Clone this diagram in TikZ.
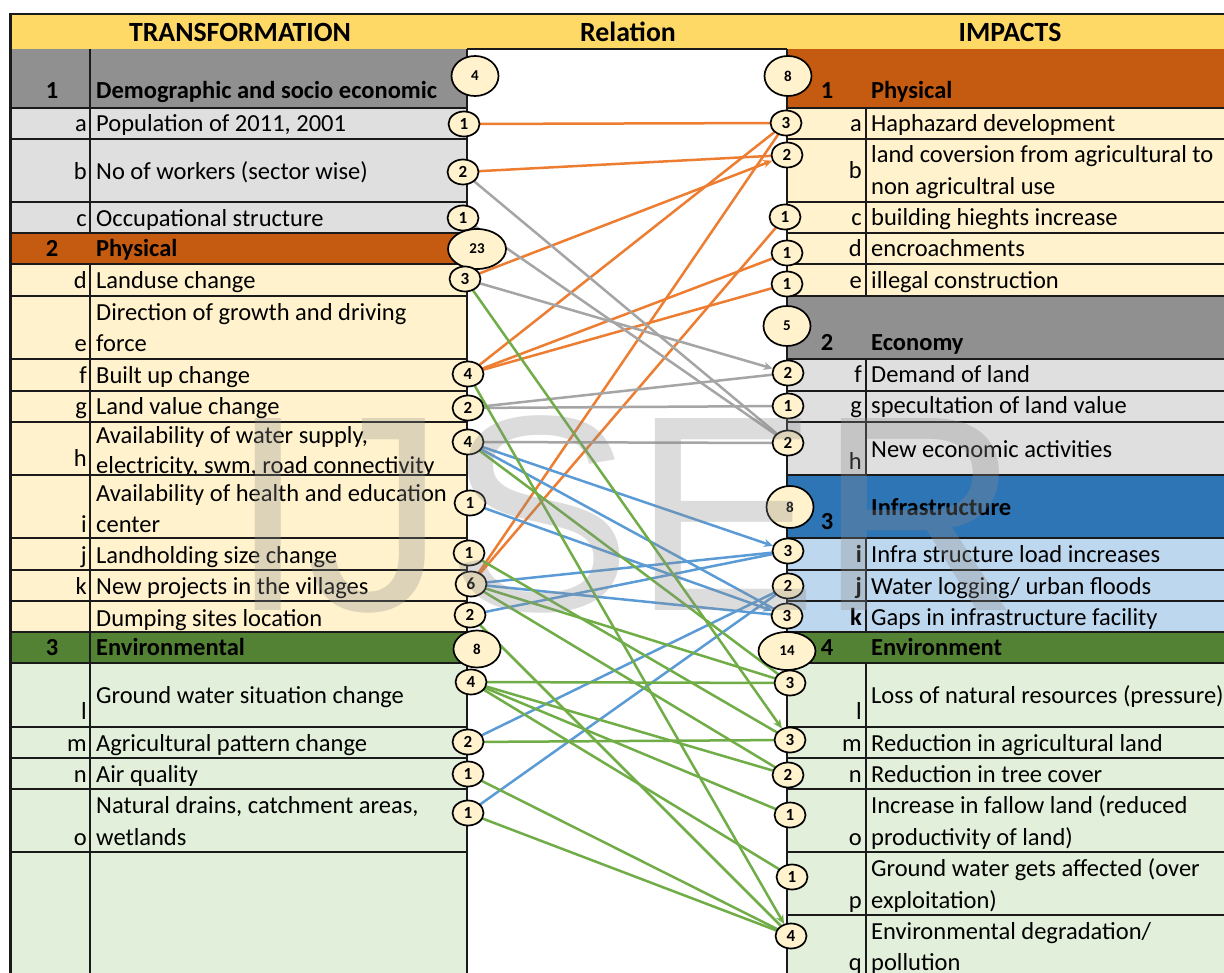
\documentclass[tikz,border=0pt]{standalone}
\usepackage{fontspec}
\setmainfont{Carlito}
\newfontfamily\wmfont{Liberation Sans}
\usetikzlibrary{shapes.geometric,arrows.meta}
\definecolor{hdr}{HTML}{FFD966}
\definecolor{grpgray}{HTML}{909090}
\definecolor{ltgray}{HTML}{DFDFDF}
\definecolor{grporange}{HTML}{C55A11}
\definecolor{cream}{HTML}{FFF2CC}
\definecolor{grpgreen}{HTML}{548235}
\definecolor{ltgreen}{HTML}{E2EFDA}
\definecolor{grpblue}{HTML}{2E75B6}
\definecolor{ltblue}{HTML}{BDD7EE}
\definecolor{lorange}{HTML}{ED7D31}
\definecolor{lgray}{HTML}{A5A5A5}
\definecolor{lblue}{HTML}{5B9BD5}
\definecolor{lgreen}{HTML}{70AD47}
\definecolor{wmgray}{HTML}{8C8C8C}
\definecolor{border}{HTML}{1A1A1A}
\pgfdeclarelayer{back}
\pgfdeclarelayer{mid}
\pgfdeclarelayer{front}
\pgfsetlayers{back,mid,main,front}
\tikzset{
  txt/.style={anchor=base west,inner sep=0pt,font=\fontsize{24.5}{26}\selectfont},
  ltr/.style={anchor=base east,inner sep=0pt,font=\fontsize{24.5}{26}\selectfont},
  btxt/.style={anchor=base west,inner sep=0pt,font=\bfseries\fontsize{24.5}{26}\selectfont},
  bnum/.style={anchor=base,inner sep=0pt,font=\bfseries\fontsize{24.5}{26}\selectfont},
  htxt/.style={anchor=center,inner sep=0pt,font=\bfseries\fontsize{27.8}{29}\selectfont},
  badge/.style={ellipse,draw=black,line width=1.7pt,fill=cream,inner sep=0pt,
     minimum width=31pt,minimum height=25pt,font=\bfseries\fontsize{17}{17}\selectfont},
  bigbadge/.style={badge,minimum width=47pt,minimum height=40pt,font=\bfseries\fontsize{15}{15}\selectfont},
  cell/.style={draw=border,line width=1.6pt},
  conn/.style={line width=2.5pt,line cap=round},
  oline/.style={conn,draw=lorange},
  gyline/.style={conn,draw=lgray},
  bline/.style={conn,draw=lblue},
  gnline/.style={conn,draw=lgreen},
  tip/.style={-{Stealth[length=9pt,width=8pt]}}
}
\begin{document}
\begin{tikzpicture}[x=1pt,y=-1pt]
\useasboundingbox (0,0) rectangle (1224,973);
\clip (0,0) rectangle (1224,973);
\begin{pgfonlayer}{back}
\fill[white] (0,0) rectangle (1224,973);
% header
\fill[hdr] (10,14) rectangle (1224,49);
% left table fills
\fill[grpgray] (10,49) rectangle (467,108);
\fill[ltgray] (10,108) rectangle (467,233);
\fill[grporange] (10,233) rectangle (467,264);
\fill[cream] (10,264) rectangle (467,632);
\fill[grpgreen] (10,632) rectangle (467,663);
\fill[ltgreen] (10,663) rectangle (467,973);
% middle
\fill[white] (467,49) rectangle (787,973);
% right table fills
\fill[grporange] (787,49) rectangle (1224,108);
\fill[cream] (787,108) rectangle (1224,296);
\fill[grpgray] (787,296) rectangle (1224,359);
\fill[ltgray] (787,359) rectangle (1224,475);
\fill[grpblue] (787,475) rectangle (1224,538);
\fill[ltblue] (787,538) rectangle (1224,632);
\fill[grpgreen] (787,632) rectangle (1224,663);
\fill[ltgreen] (787,663) rectangle (1224,973);
% left horizontal rules
\foreach \yy in {108,139,202,233,264,296,359,391,422,475,538,570,601,632,663,727,758,789,852}
  \draw[cell] (10,\yy) -- (467,\yy);
% right horizontal rules
\foreach \yy in {108,139,202,233,264,296,359,391,422,475,538,570,601,632,663,727,758,789,852,915}
  \draw[cell] (787,\yy) -- (1224,\yy);
% verticals
\draw[cell] (90,49) -- (90,233) (90,264) -- (90,973);
\draw[cell] (866,108) -- (866,296) (866,359) -- (866,475) (866,538) -- (866,632) (866,663) -- (866,973);
\draw[cell] (467,49) -- (467,973);
\draw[cell] (787,49) -- (787,973);
\draw[cell] (467,49) -- (787,49);
\draw[draw=border,line width=2.2pt] (10,14) -- (1224,14);
\draw[draw=border,line width=3pt] (10,13) -- (10,973);
% header texts
\node[htxt] (hT) at (240,32) {TRANSFORMATION};
\node[htxt] (hR) at (628,32) {Relation};
\node[htxt] (hI) at (1010,32) {IMPACTS};
% ---------------- left texts
\node[bnum] (lg1) at (52,99) {1};
\node[btxt] (lg1t) at (96,99) {Demographic and socio economic};
\node[ltr] (lla) at (87,132) {a};
\node[txt] (lta) at (96,132) {Population of 2011, 2001};
\node[ltr] (llb) at (87,180) {b};
\node[txt] (ltb) at (96,180) {No of workers (sector wise)};
\node[ltr] (llc) at (87,227) {c};
\node[txt] (ltc) at (96,227) {Occupational structure};
\node[bnum] (lg2) at (52,257) {2};
\node[btxt] (lg2t) at (96,257) {Physical};
\node[ltr] (lld) at (87,289) {d};
\node[txt] (ltd) at (96,289) {Landuse change};
\node[txt] (lte1) at (96,321) {Direction of growth and driving};
\node[ltr] (lle) at (87,352) {e};
\node[txt] (lte2) at (96,352) {force};
\node[ltr] (llf) at (87,384) {f};
\node[txt] (ltf) at (96,384) {Built up change};
\node[ltr] (llg) at (87,415) {g};
\node[txt] (ltg) at (96,415) {Land value change};
\node[txt] (lth1) at (96,443) {Availability of water supply,};
\node[ltr] (llh) at (87,467) {h};
\begin{scope}
\clip (92,424) rectangle (466,474);
\node[txt] (lth2) at (96,473) {electricity, swm, road connectivity};
\end{scope}
\node[txt] (lti1) at (96,501) {Availability of health and education};
\node[ltr] (lli) at (87,532) {i};
\node[txt] (lti2) at (96,532) {center};
\node[ltr] (llj) at (87,563) {j};
\node[txt] (ltj) at (96,563) {Landholding size change};
\node[ltr] (llk) at (87,594) {k};
\node[txt] (ltk) at (96,594) {New projects in the villages};
\node[txt] (ltds) at (96,626) {Dumping sites location};
\node[bnum] (lg3) at (52,655) {3};
\node[btxt] (lg3t) at (96,655) {Environmental};
\node[ltr] (lll) at (87,719) {l};
\node[txt] (ltl) at (96,703) {Ground water situation change};
\node[ltr] (llm) at (87,751) {m};
\node[txt] (ltm) at (96,751) {Agricultural pattern change};
\node[ltr] (lln) at (87,782) {n};
\node[txt] (ltn) at (96,782) {Air quality};
\node[txt] (lto1) at (96,813) {Natural drains, catchment areas,};
\node[ltr] (llo) at (87,845) {o};
\node[txt] (lto2) at (96,845) {wetlands};
% ---------------- right texts
\node[bnum] (rg1) at (827,99) {1};
\node[btxt] (rg1t) at (871,99) {Physical};
\node[ltr] (rla) at (862,132) {a};
\node[txt] (rta) at (871,132) {Haphazard development};
\node[txt] (rtb1) at (871,163) {land coversion from agricultural to};
\node[ltr] (rlb) at (862,179) {b};
\node[txt] (rtb2) at (871,195) {non agricultral use};
\node[ltr] (rlc) at (862,226) {c};
\node[txt] (rtc) at (871,226) {building hieghts increase};
\node[ltr] (rld) at (862,257) {d};
\node[txt] (rtd) at (871,257) {encroachments};
\node[ltr] (rle) at (862,289) {e};
\node[txt] (rte) at (871,289) {illegal construction};
\node[bnum] (rg2) at (827,351) {2};
\node[btxt] (rg2t) at (871,351) {Economy};
\node[ltr] (rlf) at (862,383) {f};
\node[txt] (rtf) at (871,383) {Demand of land};
\node[ltr] (rlg) at (862,414) {g};
\node[txt] (rtg) at (871,414) {specultation of land value};
\node[txt] (rth) at (871,457) {New economic activities};
\node[ltr] (rlh) at (862,470) {h};
\node[btxt] (rg3t) at (871,515) {Infrastructure};
\node[bnum] (rg3) at (827,529) {3};
\node[ltr,font=\bfseries\fontsize{24.5}{26}\selectfont] (rli) at (862,562) {i};
\node[txt] (rti) at (871,562) {Infra structure load increases};
\node[ltr,font=\bfseries\fontsize{24.5}{26}\selectfont] (rlj) at (862,594) {j};
\node[txt] (rtj) at (871,594) {Water logging/ urban floods};
\node[ltr,font=\bfseries\fontsize{24.5}{26}\selectfont] (rlk) at (862,625) {k};
\node[txt] (rtk) at (871,625) {Gaps in infrastructure facility};
\node[bnum] (rg4) at (827,655) {4};
\node[btxt] (rg4t) at (871,655) {Environment};
\node[txt] (rtl) at (871,703) {Loss of natural resources (pressure)};
\node[ltr] (rll) at (862,719) {l};
\node[ltr] (rlm) at (862,751) {m};
\node[txt] (rtm) at (871,751) {Reduction in agricultural land};
\node[ltr] (rln) at (862,782) {n};
\node[txt] (rtn) at (871,782) {Reduction in tree cover};
\node[txt] (rto1) at (871,813) {Increase in fallow land (reduced};
\node[ltr] (rlo) at (862,845) {o};
\node[txt] (rto2) at (871,845) {productivity of land)};
\node[txt] (rtp1) at (871,876) {Ground water gets affected (over};
\node[ltr] (rlp) at (862,908) {p};
\node[txt] (rtp2) at (871,908) {exploitation)};
\node[txt] (rtq1) at (871,939) {Environmental degradation/};
\node[ltr] (rlq) at (862,970) {q};
\node[txt] (rtq2) at (871,970) {pollution};
\end{pgfonlayer}
% ---------------- badges (left)
\node[bigbadge] (LG1) at (475,76) {4};
\node[badge] (La) at (464,124) {1};
\node[badge] (Lb) at (463,172) {2};
\node[badge] (Lc) at (463,218) {1};
\node[bigbadge,minimum width=58pt] (LG2) at (477,249) {23};
\node[badge] (Ld) at (465,279) {3};
\node[badge] (Lf) at (468,374) {4};
\node[badge] (Lg) at (468,408) {2};
\node[badge] (Lh) at (468,442) {4};
\node[badge] (Li) at (470,503) {1};
\node[badge] (Lj) at (469,553) {1};
\node[badge] (Lk) at (471,584) {6};
\node[badge] (Ldp) at (470,615) {2};
\node[bigbadge,minimum height=37pt] (LG3) at (477,649) {8};
\node[badge] (Ll) at (471,682) {4};
\node[badge] (Lm) at (468,742) {2};
\node[badge] (Ln) at (468,774) {1};
\node[badge] (Lo) at (468,813) {1};
% ---------------- badges (right)
\node[bigbadge] (RG1) at (788,76) {8};
\node[badge] (Ra) at (786,123) {3};
\node[badge] (Rb) at (787,155) {2};
\node[badge] (Rc) at (785,217) {1};
\node[badge] (Rd) at (787,253) {1};
\node[badge] (Re) at (787,284) {1};
\node[bigbadge] (RG2) at (787,326) {5};
\node[badge] (Rf) at (788,373) {2};
\node[badge] (Rg) at (788,406) {1};
\node[badge] (Rh) at (788,443) {2};
\node[bigbadge,minimum height=42pt] (RG3) at (790,507) {8};
\node[badge] (Ri) at (788,551) {3};
\node[badge] (Rj) at (788,586) {2};
\node[badge] (Rk) at (787,616) {3};
\node[bigbadge,minimum width=57pt,minimum height=38pt] (RG4) at (787,651) {14};
\node[badge] (Rl) at (790,683) {3};
\node[badge] (Rm) at (790,740) {3};
\node[badge] (Rn) at (788,775) {2};
\node[badge] (Ro) at (790,815) {1};
\node[badge] (Rp) at (792,877) {1};
\node[badge] (Rq) at (791,936) {4};
% ---------------- connectors
\begin{pgfonlayer}{mid}
% orange
\draw[oline] (La) -- (Ra);
\draw[oline] (Lb) -- (Rb);
\draw[oline,tip] (Ld) -- (Rb);
\draw[oline] (Lf) -- (Ra);
\draw[oline] (Lf) -- (Rd);
\draw[oline] (Lf) -- (Re);
\draw[oline] (Lk) -- (Ra);
\draw[oline] (Lk) -- (Rc);
% gray
\draw[gyline] (Lb) -- (Rh);
\draw[gyline] (Lc) -- (Rh);
\draw[gyline,tip] (Ld) -- (Rf);
\draw[gyline] (Lg) -- (Rf);
\draw[gyline] (Lg) -- (Rg);
\draw[gyline] (Lh) -- (Rh);
% blue
\draw[bline,tip] (Lh) -- (Ri);
\draw[bline] (Lh) -- (Rk);
\draw[bline,tip] (Li) -- (Rk);
\draw[bline] (Lk) -- (Ri);
\draw[bline] (Lk) -- (Rk);
\draw[bline] (Ldp) -- (Ri);
\draw[bline] (Lm) -- (Rj);
\draw[bline] (Lo) -- (Rj);
% green
\draw[gnline,tip] (Ld) -- (Rm);
\draw[gnline,tip] (Lf) -- (Rq);
\draw[gnline] (Lh) -- (Rl);
\draw[gnline] (Lj) -- (Rm);
\draw[gnline] (Lk) -- (Rl);
\draw[gnline] (Lk) -- (Rn);
\draw[gnline] (Ldp) -- (Rq);
\draw[gnline] (Ll) -- (Rl);
\draw[gnline] (Ll) -- (Rn);
\draw[gnline] (Ll) -- (Ro);
\draw[gnline] (Ll) -- (Rp);
\draw[gnline] (Lm) -- (Rm);
\draw[gnline] (Ln) -- (Rq);
\draw[gnline] (Lo) -- (Rq);
\end{pgfonlayer}
% ---------------- watermark
\begin{pgfonlayer}{front}
\node[anchor=base west,inner sep=0pt,text=wmgray,opacity=0.3,
  font=\wmfont\fontsize{279}{279}\selectfont] (wm) at (229,610) {IJSER};
\end{pgfonlayer}
\end{tikzpicture}
\end{document}
